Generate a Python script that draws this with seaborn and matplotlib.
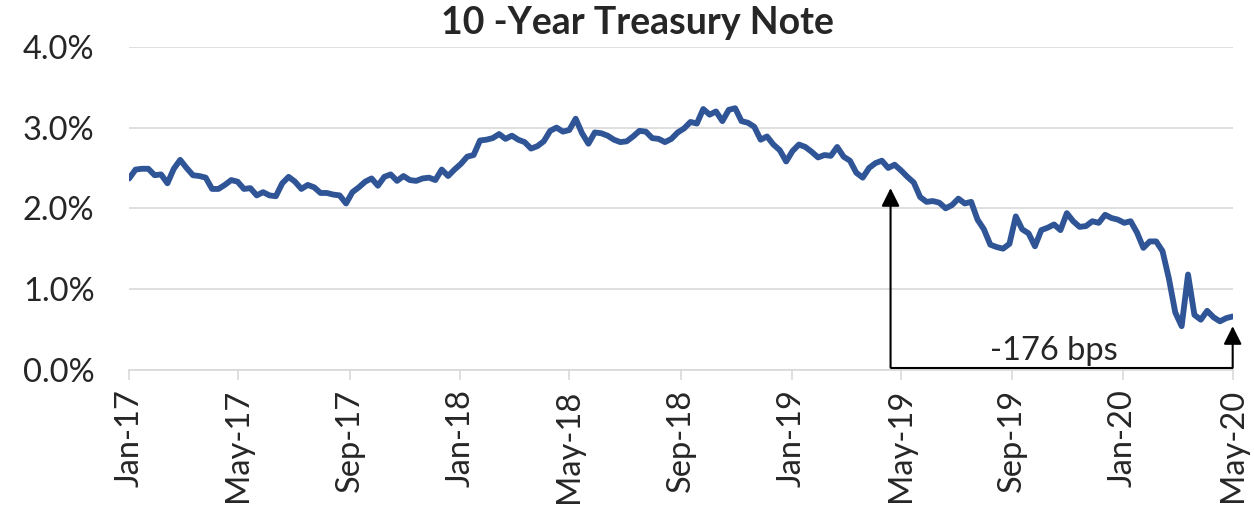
# 10-Year Treasury Note yield, Jan-17 to May-20, with the -176 bps drop marked
import pandas as pd
import numpy as np
import seaborn as sns
import matplotlib
matplotlib.use("Agg")
import matplotlib.pyplot as plt
import matplotlib.dates as mdates
from matplotlib.ticker import PercentFormatter
# --------------------------------------------------------------------------------------------------
# Weekly yield (%), evenly spaced over the axis span
yield_2017 = [2.37, 2.48, 2.49, 2.49, 2.41, 2.42, 2.31, 2.49, 2.60, 2.50, 2.41, 2.40,
              2.38, 2.24, 2.24, 2.29, 2.35, 2.33, 2.24, 2.25, 2.16, 2.20, 2.16, 2.15,
              2.31, 2.39, 2.33, 2.24, 2.29, 2.26, 2.19, 2.19, 2.17, 2.16, 2.06, 2.20,
              2.26, 2.33, 2.37, 2.28, 2.39, 2.42, 2.34, 2.40, 2.35, 2.34, 2.37, 2.38,
              2.35, 2.48, 2.40]
yield_2018 = [2.48, 2.55, 2.64, 2.66, 2.84, 2.85, 2.87, 2.92, 2.86, 2.90, 2.85, 2.82,
              2.74, 2.77, 2.83, 2.96, 3.00, 2.95, 2.97, 3.11, 2.93, 2.80, 2.94, 2.93,
              2.90, 2.85, 2.82, 2.83, 2.89, 2.96, 2.95, 2.87, 2.86, 2.82, 2.86, 2.94,
              2.99, 3.07, 3.05, 3.23, 3.16, 3.20, 3.08, 3.22, 3.24, 3.08, 3.06, 3.01,
              2.85, 2.89, 2.79, 2.72]
yield_2019 = [2.58, 2.71, 2.79, 2.76, 2.70, 2.63, 2.66, 2.65, 2.76, 2.64, 2.59, 2.44,
              2.38, 2.50, 2.56, 2.59, 2.50, 2.54, 2.47, 2.39, 2.32, 2.14, 2.08, 2.09,
              2.07, 2.00, 2.04, 2.12, 2.06, 2.08, 1.86, 1.74, 1.55, 1.52, 1.50, 1.56,
              1.90, 1.74, 1.69, 1.53, 1.73, 1.76, 1.80, 1.73, 1.94, 1.84, 1.77, 1.78,
              1.84, 1.82, 1.92, 1.88]
yield_2020 = [1.86, 1.82, 1.84, 1.70, 1.51, 1.59, 1.59, 1.47, 1.13, 0.71, 0.54, 1.18,
              0.68, 0.62, 0.73, 0.65, 0.60, 0.64, 0.66]
yields = yield_2017 + yield_2018 + yield_2019 + yield_2020

axis_start = "2017-01-01"
axis_end = "2020-05-01"
dates = pd.date_range(axis_start, axis_end, periods=len(yields))
df = pd.DataFrame({"date": dates, "yield": yields})

# annotation: drop from May-19 to May-20
drop_start = pd.Timestamp("2019-04-20")
drop_end = pd.Timestamp(axis_end)
drop_label = "-176 bps"
# --------------------------------------------------------------------------------------------------
sns.set_style("white")
plt.rcParams["font.family"] = ["Lato", "DejaVu Sans"]

fig, ax = plt.subplots(figsize=(12.54, 5.15), dpi=100)
fig.subplots_adjust(left=0.103, right=0.983, bottom=0.282, top=0.909)

sns.lineplot(data=df, x="date", y="yield", color="#2F5597", linewidth=4.2, ax=ax)

ax.set_ylim(0, 4)
ax.set_yticks([0, 1, 2, 3, 4])
ax.yaxis.set_major_formatter(PercentFormatter(decimals=1))
ax.set_xlim(pd.Timestamp(axis_start), pd.Timestamp(axis_end))
ax.xaxis.set_major_locator(mdates.MonthLocator(bymonth=[1, 5, 9]))
ax.xaxis.set_major_formatter(mdates.DateFormatter("%b-%y"))
ax.grid(axis="y", color="#D9D9D9", linewidth=1.2)
ax.set_axisbelow(True)
for s in ["top", "right", "left"]:
    ax.spines[s].set_visible(False)
ax.spines["bottom"].set_color("#D9D9D9")
ax.spines["bottom"].set_linewidth(1.2)
ax.tick_params(axis="x", length=7, width=1.2, color="#D9D9D9", pad=7,
               labelsize=23.5, labelrotation=90, bottom=True)
ax.tick_params(axis="y", length=0, pad=25, labelsize=23.5)
ax.set_xlabel("")
ax.set_ylabel("")

# -176 bps bracket
arrow = dict(arrowstyle="-|>,head_length=1.0,head_width=0.5", mutation_scale=11,
             color="black", lw=1.5, shrinkA=0, shrinkB=0)
base_y = 0.025
ax.annotate("", xy=(drop_start, 2.25), xytext=(drop_start, base_y), arrowprops=arrow)
ax.annotate("", xy=(drop_end, 0.54), xytext=(drop_end, base_y), arrowprops=arrow,
            annotation_clip=False)
ax.plot([drop_start, drop_end], [base_y, base_y], color="black", lw=1.5,
        solid_capstyle="butt", clip_on=False)
ax.text(pd.Timestamp("2019-10-17"), 0.12, drop_label, ha="center", va="baseline",
        fontsize=23.5)

fig.text(0.508, 0.955, "10 -Year Treasury Note", ha="center", va="center",
         fontsize=27, fontweight="bold")

plt.savefig("out.png", dpi=100)
